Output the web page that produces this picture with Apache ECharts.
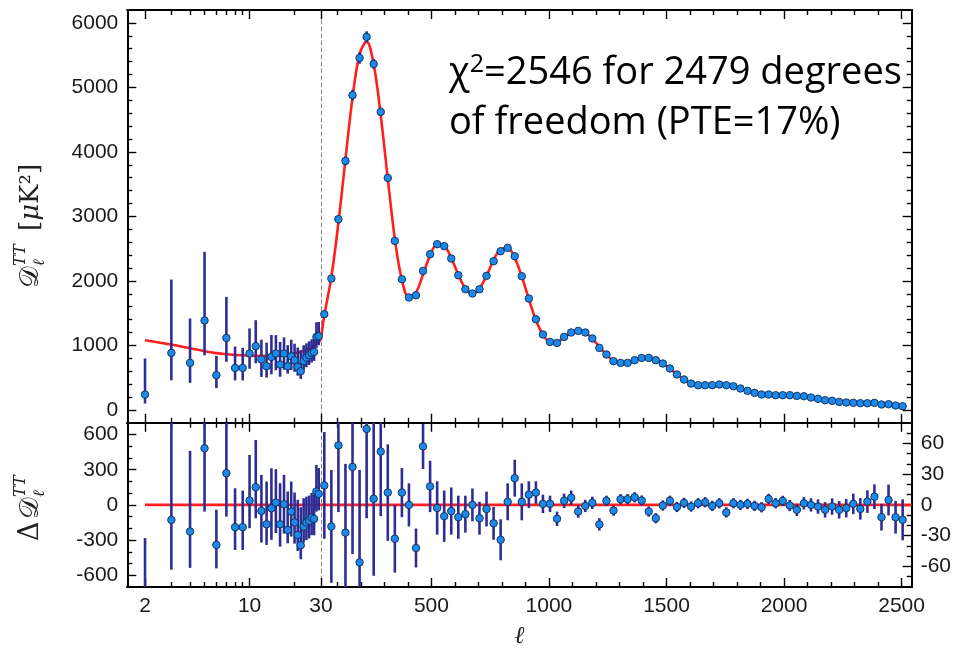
<!DOCTYPE html>
<html><head><meta charset="utf-8">
<script src="https://cdn.jsdelivr.net/npm/echarts@6/dist/echarts.min.js"></script>
<style>html,body{margin:0;padding:0;background:#fff}#c{width:953px;height:649px}</style>
</head><body><div id="c"></div>
<script>
// ---------- DATA ----------
const lowEll   = [2,3,4,5,6,7,8,9,10,11,12,13,14,15,16,17,18,19,20,21,22,23,24,25,26,27,28,29];
const lowD     = [238,884,729,1386,538,1116,651,651,874,988,781,677,822,874,704,874,677,832,770,667,600,760,812,848,884,899,1132,1143];
const lowRes   = [-842,-128,-227,483,-341,270,-190,-190,37,151,-51,-165,-28,20,-165,6,-213,-57,-150,-256,-344,-185,-150,-136,-108,-119,114,94];
const lowErrLo = [139,424,310,540,200,370,194,194,236,265,270,176,270,260,190,250,114,213,180,136,119,136,150,150,150,140,171,140];
const lowErrHi = [559,1137,688,1064,300,636,332,312,389,403,307,364,340,285,350,250,327,256,256,299,324,242,220,215,210,205,227,220];

const highEll = [44.5,74.5,104.5,134.5,164.5,194.5,224.5,254.5,284.5,314.5,
  344.5,374.5,404.5,434.5,464.5,494.5,524.5,554.5,584.5,614.5,
  644.5,674.5,704.5,734.5,764.5,794.5,824.5,854.5,884.5,914.5,
  944.5,974.5,1004.5,1034.5,1064.5,1094.5,1124.5,1154.5,1184.5,1214.5,
  1244.5,1274.5,1304.5,1334.5,1364.5,1394.5,1424.5,1454.5,1484.5,1514.5,
  1544.5,1574.5,1604.5,1634.5,1664.5,1694.5,1724.5,1754.5,1784.5,1814.5,
  1844.5,1874.5,1904.5,1934.5,1964.5,1994.5,2024.5,2054.5,2084.5,2114.5,
  2144.5,2174.5,2204.5,2234.5,2264.5,2294.5,2324.5,2354.5,2384.5,2414.5,
  2444.5,2474.5,2504.5];
const highD = [1484,2037,2957,3860,4879,5457,5783,5364,4620,3597,
  2620,2026,1743,1778,2155,2414,2569,2538,2347,2088,
  1871,1805,1871,2078,2305,2460,2512,2383,2073,1727,
  1406,1169,1054,1039,1132,1200,1225,1200,1107,961,
  859,755,729,729,771,806,806,771,719,642,
  549,471,409,383,383,383,394,383,367,332,
  295,264,239,239,228,228,228,217,212,192,
  171,150,140,124,115,109,104,104,109,84,
  88,68,57];
const highRes = [19,-21,58,-27,37,-56,74,6,52,12,
  -33,12,0,-42,57,18,-3,-11,-6,-12,
  -9,0,-13,-4,-18,-34,3,26,3,10,
  12,1,1,-13.5,4,7,-6.5,-1,2,-19,
  4,-5.5,5.5,5.5,7.4,4.2,-6.5,-13,-0.6,4,
  -2,2,-1.6,1.6,2.6,-1,1.6,-7.4,1.6,0,
  1,-1,-2.3,5.8,1.6,3.9,-0.6,-4.8,1.6,0,
  -1.6,-4.8,-1.6,-4.8,-3.2,1,-3.9,3.2,8,-12,
  4.8,-12,-14.5];
const highErr = [52,55,65,67,85,90,87,75,63,47,
  33,24,21,19,22,25,26,25,23,21,
  18,16,16,17,16,20,18,18,18,13,
  11,9,8,7,7,7,6,6,6,6,
  5,5,5,5,5,5,5,5,5,5,
  5,5,5,5,5,5,5,5,5,5,
  5,5,5,5,5,5,5.5,6,6,6.5,
  7,7.5,8,8.5,9,10,10.5,11,12,13,
  15,16,20];

const modelLowEll = [2,3,4,5,6,7,8,10,12,15,18,20,22,24,26,28,30];
const modelLowD   = [1080,1013,955,910,880,862,852,842,838,842,858,876,900,930,970,1020,1090];
const modelHighEll = [30].concat(highEll);
const modelHighD = [1090,
  1465,2058,2899,3887,4842,5513,5709,5358,4568,3585,
  2653,2014,1743,1820,2098,2396,2572,2549,2353,2100,
  1880,1805,1884,2082,2323,2494,2509,2357,2070,1717,
  1394,1168,1053,1052,1128,1193,1231,1201,1105,980,
  855,760,723,723,764,802,812,784,720,638,
  551,469,411,381,380,384,392,390,365,332,
  294,265,241,233,226,224,229,222,210,192,
  173,155,142,129,118,108,108,101,101,96,
  83,80,71];

// ticks / labels
const xLowMajor  = [2,10,30];
const xLowMinor  = [3,4,5,6,7,8,9,20];
const xHighMajor = [500,1000,1500,2000,2500];
const xHighMinor = [100,200,300,400,600,700,800,900,1100,1200,1300,1400,1600,1700,1800,1900,2100,2200,2300,2400];
const yTopMajor  = [0,1000,2000,3000,4000,5000,6000];
const yTopMinor  = [200,400,600,800,1200,1400,1600,1800,2200,2400,2600,2800,3200,3400,3600,3800,4200,4400,4600,4800,5200,5400,5600,5800];
const yBLMajor   = [-600,-300,0,300,600];
const yBLMinor   = [-500,-400,-200,-100,100,200,400,500];
const yBRMajor   = [-60,-30,0,30,60];
const yBRMinor   = [-70,-50,-40,-20,-10,10,20,40,50,70];

// ---------- LAYOUT ----------
const LG = v => Math.log10(v);
const XL = [LG(1.522), LG(30)];
const XH = [30, 2543];
const YT = [-200, 6200];
const YBL = [-700, 700];
const YBR = [-80, 80];
const gTL = {left:127.3, top:10, width:193.6, height:412.8};
const gTR = {left:320.9, top:10, width:590.8, height:412.8};
const gBL = {left:127.3, top:422.8, width:193.6, height:164.2};
const gBR = {left:320.9, top:422.8, width:590.8, height:164.2};

const LABEL = {fontFamily:'"Liberation Sans", Arial, sans-serif', fontSize:21, color:'#1a1a1a'};
const MAJ = 9, MIN = 5;

function xAx(grid, pos, low, ticks, len, labels) {
  const conv = low ? ticks.map(LG) : ticks;
  const o = {
    type:'value', gridIndex:grid, position:pos, min:(low?XL:XH)[0], max:(low?XL:XH)[1],
    axisLine:{show:true, onZero:false, lineStyle:{color:'#000', width:2}},
    axisTick:{show:true, inside:true, length:len, customValues:conv, lineStyle:{color:'#000', width:1.4}},
    axisLabel:{show:false}, splitLine:{show:false}, axisPointer:{show:false}
  };
  if (labels) {
    o.axisLabel = Object.assign({show:true, margin:9, customValues: low ? labels.map(LG) : labels,
      formatter: v => low ? String(Math.round(Math.pow(10, v))) : String(v)}, LABEL);
  }
  return o;
}
function yAx(grid, pos, range, ticks, len, labels, dashed) {
  const o = {
    type:'value', gridIndex:grid, position:pos, min:range[0], max:range[1],
    axisLine:{show:true, onZero:false, lineStyle: dashed ? {color:'#8a8a8a', width:1, type:[4,3]} : {color:'#000', width:2}},
    axisTick: ticks ? {show:true, inside:true, length:len, customValues:ticks, lineStyle:{color:'#000', width:1.4}} : {show:false},
    axisLabel:{show:false}, splitLine:{show:false}, axisPointer:{show:false}
  };
  if (labels) o.axisLabel = Object.assign({show:true, margin:9, customValues:labels, formatter: v => String(v)}, LABEL);
  return o;
}

const xAxes = [
  xAx(0,'top',true,xLowMajor,MAJ), xAx(0,'top',true,xLowMinor,MIN),
  xAx(0,'bottom',true,xLowMajor,MAJ), xAx(0,'bottom',true,xLowMinor,MIN),
  xAx(1,'top',false,xHighMajor,MAJ), xAx(1,'top',false,xHighMinor,MIN),
  xAx(1,'bottom',false,xHighMajor,MAJ), xAx(1,'bottom',false,xHighMinor,MIN),
  xAx(2,'top',true,xLowMajor,MAJ), xAx(2,'top',true,xLowMinor,MIN),
  xAx(2,'bottom',true,xLowMajor,MAJ,xLowMajor), xAx(2,'bottom',true,xLowMinor,MIN),
  xAx(3,'top',false,xHighMajor,MAJ), xAx(3,'top',false,xHighMinor,MIN),
  xAx(3,'bottom',false,xHighMajor,MAJ,xHighMajor), xAx(3,'bottom',false,xHighMinor,MIN)
];
const yAxes = [
  yAx(0,'left',YT,yTopMajor,MAJ,yTopMajor), yAx(0,'left',YT,yTopMinor,MIN),
  yAx(1,'left',YT,null,0,null,true), yAx(1,'right',YT,yTopMajor,MAJ), yAx(1,'right',YT,yTopMinor,MIN),
  yAx(2,'left',YBL,yBLMajor,MAJ,yBLMajor), yAx(2,'left',YBL,yBLMinor,MIN),
  yAx(3,'left',YBR,null,0,null,true), yAx(3,'right',YBR,yBRMajor,MAJ,yBRMajor), yAx(3,'right',YBR,yBRMinor,MIN)
];

const RED = '#ff1f1f', BAR = '#2d2d94', PT = '#1c88e8', PTB = '#0f2b57';

function errRender(params, api) {
  const x = api.value(0), lo = api.value(1), hi = api.value(2);
  const p1 = api.coord([x, lo]), p2 = api.coord([x, hi]);
  const cs = params.coordSys;
  const t = cs.y, b = cs.y + cs.height;
  const y1 = Math.min(Math.max(p1[1], t), b), y2 = Math.min(Math.max(p2[1], t), b);
  if (Math.abs(y1 - y2) < 0.01) return null;
  return {type:'line', shape:{x1:p1[0], y1:y1, x2:p2[0], y2:y2}, style:{stroke:BAR, lineWidth:2.6}};
}
function lineS(xi, yi, data) {
  return {type:'line', xAxisIndex:xi, yAxisIndex:yi, data:data, smooth:0.35, symbol:'none', z:1,
    lineStyle:{color:RED, width:2.6}, silent:true, clip:true};
}
function errS(xi, yi, data) {
  return {type:'custom', xAxisIndex:xi, yAxisIndex:yi, data:data, renderItem:errRender, z:2,
    encode:{x:0, y:[1,2]}, silent:true};
}
function ptS(xi, yi, data) {
  return {type:'scatter', xAxisIndex:xi, yAxisIndex:yi, data:data, symbol:'circle', symbolSize:7.5, z:3, clip:true,
    itemStyle:{color:PT, borderColor:PTB, borderWidth:0.9, opacity:1}, silent:true};
}

const series = [
  lineS(0, 0, modelLowEll.map((l,i) => [LG(l), modelLowD[i]])),
  errS(0, 0, lowEll.map((l,i) => [LG(l), lowD[i]-lowErrLo[i], lowD[i]+lowErrHi[i]])),
  ptS(0, 0, lowEll.map((l,i) => [LG(l), lowD[i]])),
  lineS(4, 3, modelHighEll.map((l,i) => [l, modelHighD[i]])),
  errS(4, 3, highEll.map((l,i) => [l, highD[i]-highErr[i], highD[i]+highErr[i]])),
  ptS(4, 3, highEll.map((l,i) => [l, highD[i]])),
  lineS(8, 5, [[LG(2),0],[LG(30),0]]),
  errS(8, 5, lowEll.map((l,i) => [LG(l), lowRes[i]-lowErrLo[i], lowRes[i]+lowErrHi[i]])),
  ptS(8, 5, lowEll.map((l,i) => [LG(l), lowRes[i]])),
  lineS(12, 8, [[30,0],[XH[1],0]]),
  errS(12, 8, highEll.map((l,i) => [l, highRes[i]-highErr[i], highRes[i]+highErr[i]])),
  ptS(12, 8, highEll.map((l,i) => [l, highRes[i]]))
];

const SERIF = '"DejaVu Serif", "Liberation Serif", serif';
const OS = '"Open Sans", sans-serif';
const graphic = [
  {type:'text', x:449, y:52, style:{text:'{a|χ}{s|2}{a|=2546 for 2479 degrees}', fill:'#000',
    rich:{a:{font:'38px ' + OS, fill:'#000', verticalAlign:'bottom'},
          s:{font:'25px ' + OS, fill:'#000', verticalAlign:'bottom', padding:[0,0,15,0]}}}},
  {type:'text', x:449, y:104, style:{text:'of freedom (PTE=17%)', font:'38px ' + OS, fill:'#000'}},
  {type:'text', x:519.5, y:637, style:{text:'ℓ', font:'italic 24px ' + SERIF, fill:'#222', align:'center', verticalAlign:'middle'}},
  {type:'group', x:31, y:222, rotation:Math.PI/2, children:[
    {type:'text', x:-66, y:0, style:{text:'𝒟', font:'27px ' + SERIF, fill:'#222', verticalAlign:'middle'}},
    {type:'text', x:-44, y:-10, style:{text:'TT', font:'italic 16px ' + SERIF, fill:'#222', verticalAlign:'middle'}},
    {type:'text', x:-44, y:9, style:{text:'ℓ', font:'italic 16px ' + SERIF, fill:'#222', verticalAlign:'middle'}},
    {type:'text', x:-9, y:0, style:{text:'{r|[}{i|μ}{r|K²]}', fill:'#222', verticalAlign:'middle',
      rich:{r:{font:'26px ' + SERIF, fill:'#222'}, i:{font:'italic 26px ' + SERIF, fill:'#222'}}}}
  ]},
  {type:'group', x:31, y:498, rotation:Math.PI/2, children:[
    {type:'text', x:-43, y:0, style:{text:'Δ', font:'27px ' + SERIF, fill:'#222', verticalAlign:'middle'}},
    {type:'text', x:-21, y:0, style:{text:'𝒟', font:'27px ' + SERIF, fill:'#222', verticalAlign:'middle'}},
    {type:'text', x:1, y:-10, style:{text:'TT', font:'italic 16px ' + SERIF, fill:'#222', verticalAlign:'middle'}},
    {type:'text', x:1, y:9, style:{text:'ℓ', font:'italic 16px ' + SERIF, fill:'#222', verticalAlign:'middle'}}
  ]}
];

const chart = echarts.init(document.getElementById('c'), null, {renderer:'canvas', width:953, height:649});
chart.setOption({
  animation:false,
  backgroundColor:'#ffffff',
  grid:[gTL, gTR, gBL, gBR].map(g => Object.assign({containLabel:false, outerBoundsMode:'none'}, g)),
  xAxis:xAxes,
  yAxis:yAxes,
  series:series,
  graphic:graphic
});
</script>
</body></html>
